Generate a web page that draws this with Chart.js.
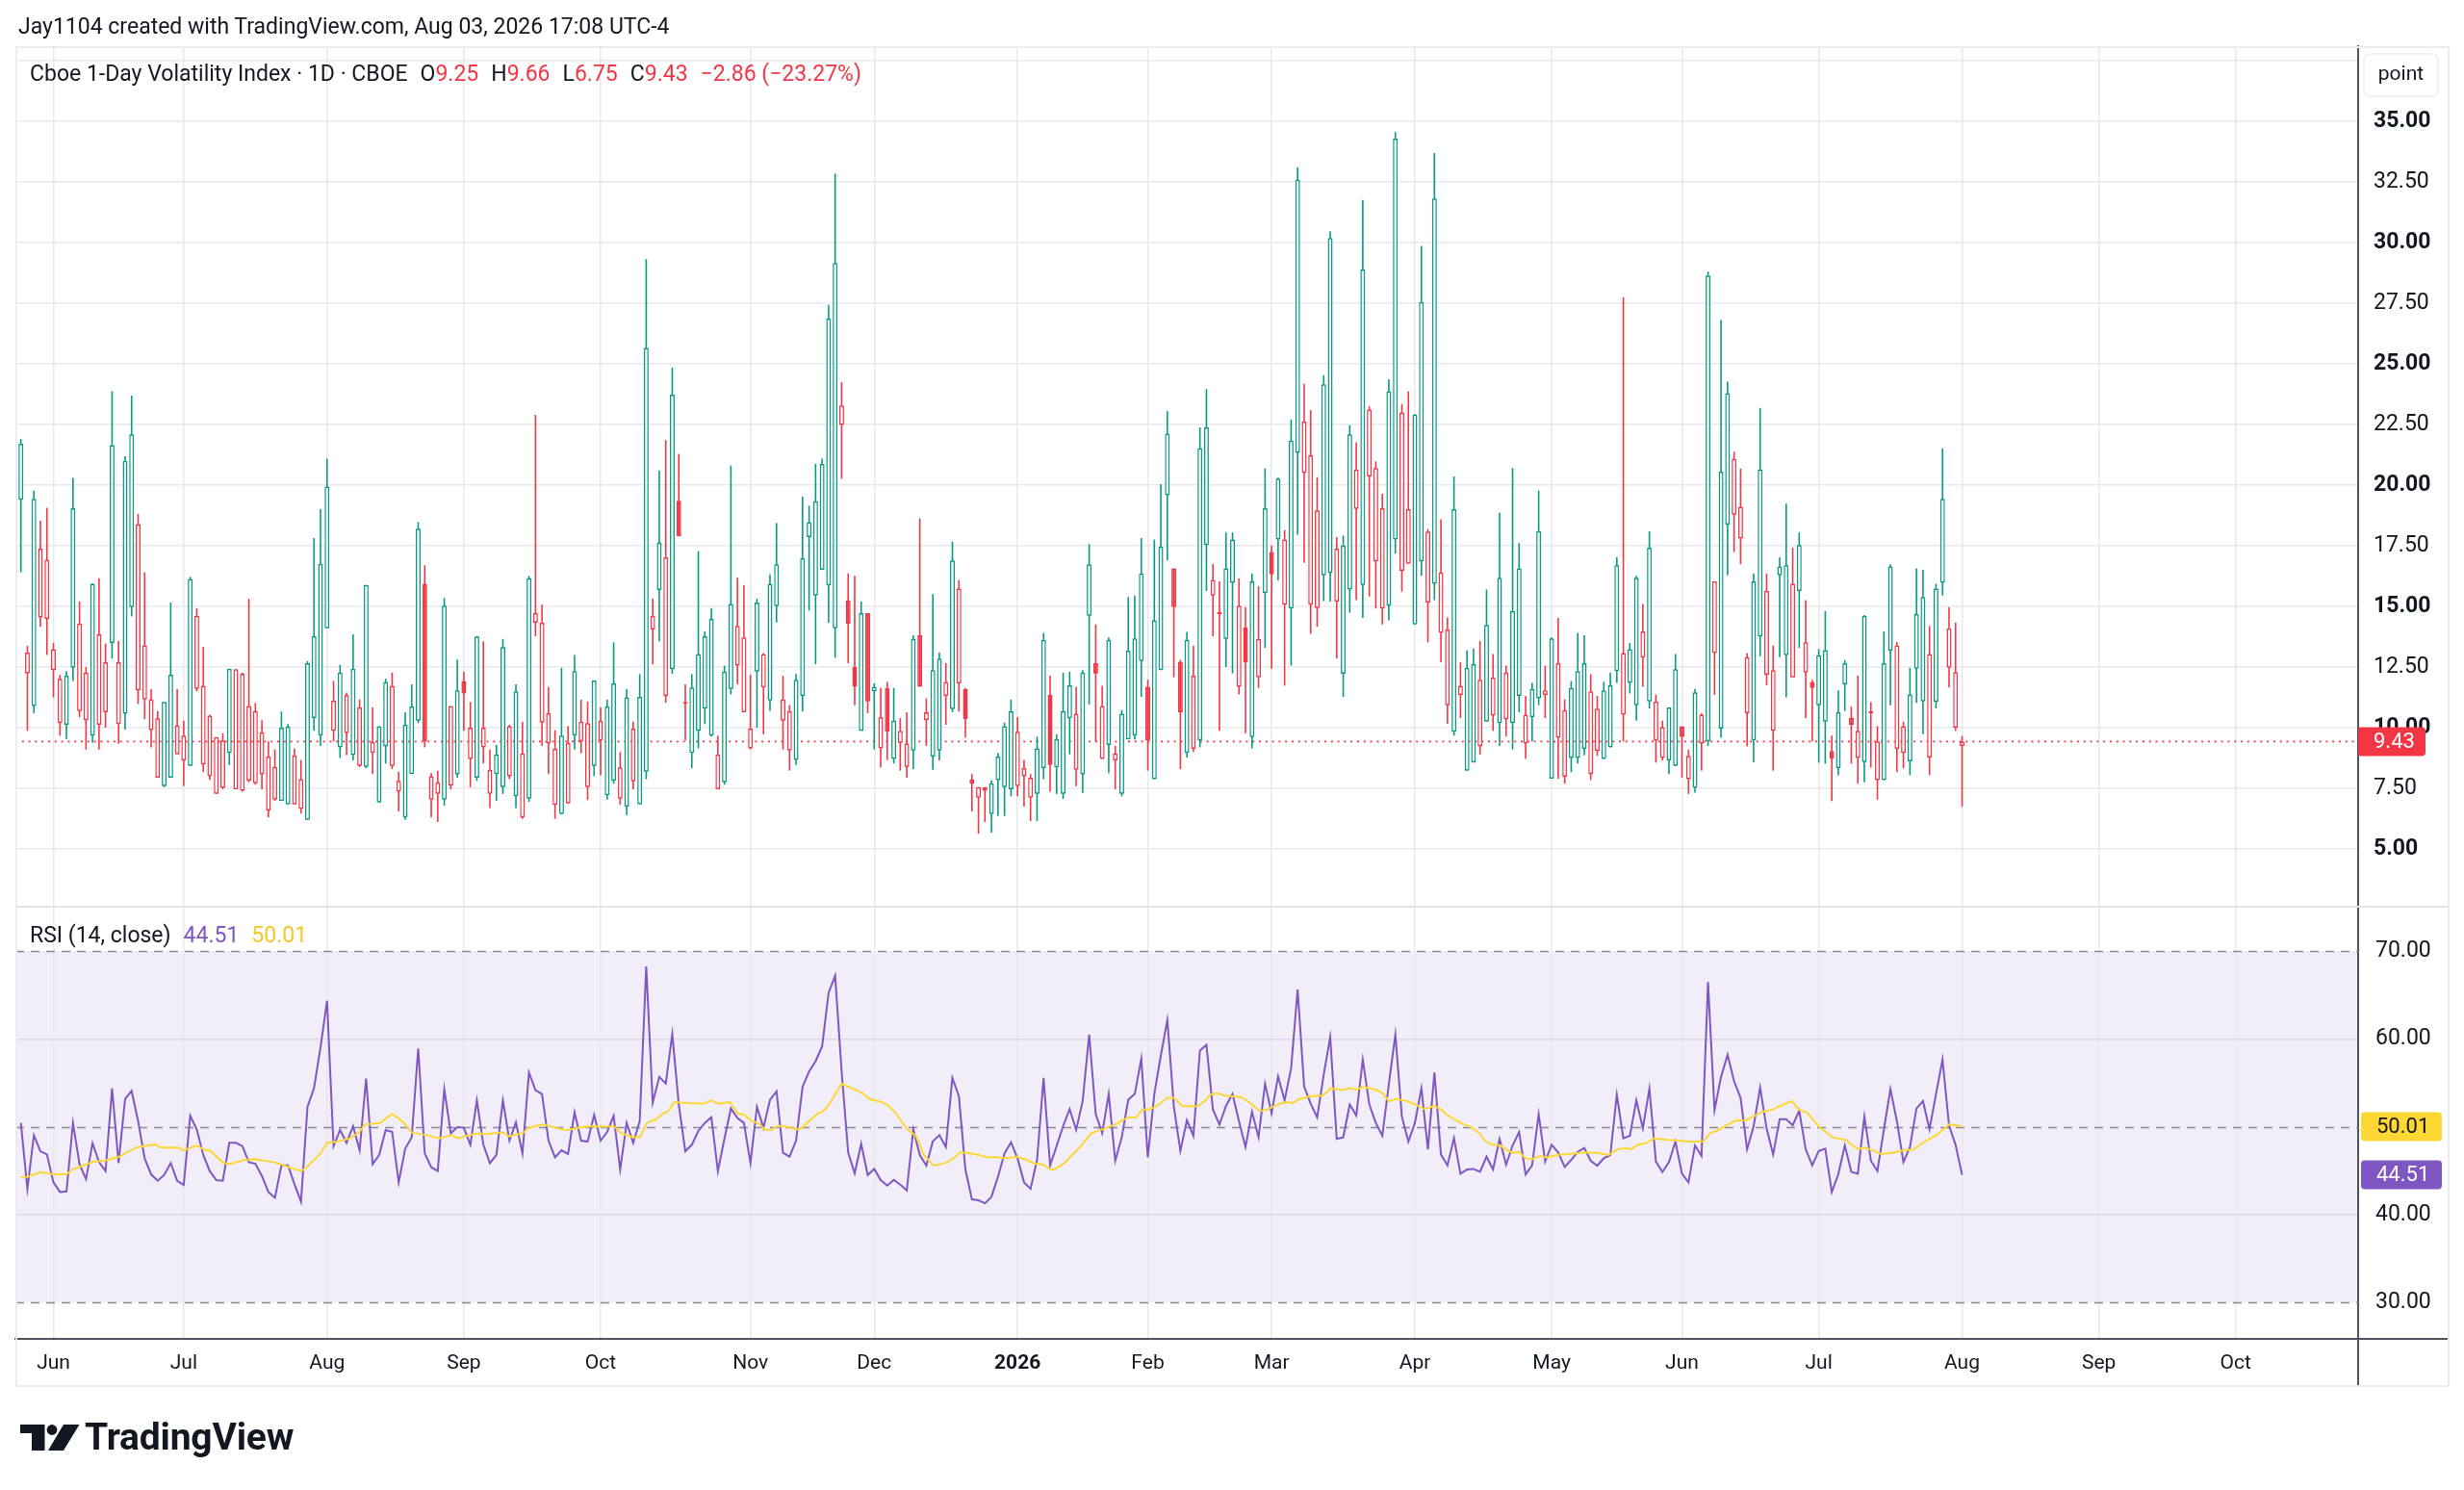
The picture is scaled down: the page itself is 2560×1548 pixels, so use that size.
<!DOCTYPE html>
<html><head><meta charset="utf-8">
<script src="https://cdn.jsdelivr.net/npm/chart.js@4.4.1/dist/chart.umd.min.js"></script>
<style>
html,body{margin:0;padding:0;background:#fff;}
#wrap{position:relative;width:2560px;height:1548px;overflow:hidden;font-family:Roboto,"Liberation Sans",sans-serif;color:#131722;}
canvas{position:absolute;left:0;}
#c1{top:0;}
#c2{top:943px;}
#frame{position:absolute;left:16px;top:48px;width:2529px;height:1393px;border:2px solid #e9ecf1;box-sizing:border-box;pointer-events:none;}
.txt{position:absolute;white-space:pre;font-size:23px;line-height:26px;}
#hdr{left:19px;top:15px;}
#leg{left:31px;top:64px;}
#rleg{left:31px;top:959px;}
.sp{margin-left:13px;}
.r{color:#F23645;}
.pu{color:#7E57C2;}
.ye{color:#F5C827;}
#logo{position:absolute;left:21px;top:1475px;height:40px;}
#logo svg{position:absolute;left:0;top:5px;}
#logo span{position:absolute;left:67px;top:-1px;font-size:39px;line-height:39px;font-weight:700;letter-spacing:-0.2px;color:#131722;white-space:pre;}
</style></head>
<body>
<div id="wrap">
<canvas id="c1" width="2560" height="943"></canvas>
<canvas id="c2" width="2560" height="605"></canvas>
<div id="frame"></div>
<div class="txt" id="hdr">Jay1104 created with TradingView.com, Aug 03, 2026 17:08 UTC-4</div>
<div class="txt" id="leg"></div>
<div class="txt" id="rleg"></div>
<div id="logo"><svg width="62" height="27" viewBox="0 0 62 27"><path d="M0 0H25.5V27H12V9H0Z" fill="#131722"/><circle cx="33" cy="5.5" r="5.4" fill="#131722"/><path d="M45 0H61.5L45 27H29Z" fill="#131722"/></svg><span>TradingView</span></div>
</div>
<script>
// ---------- data ----------
const monthIdx = [5,25,47,68,89,112,131,153,173,192,214,235,255,276,298,319,340];
const monthLabels = ['Jun','Jul','Aug','Sep','Oct','Nov','Dec','2026','Feb','Mar','Apr','May','Jun','Jul','Aug','Sep','Oct'];
const priceTicks = [5,7.5,10,12.5,15,17.5,20,22.5,25,27.5,30,32.5,35,37.5];
const rsiTicks = [30,40,50,60,70];
const rsiLevels = [30,50,70];

const openV = [
19.40,12.23,10.89,14.55,14.49,12.37,10.19,10.12,12.47,10.69,
10.31,9.67,10.12,10.64,13.49,10.15,10.58,14.97,11.54,11.16,
9.90,7.94,7.59,7.94,8.90,8.65,8.42,11.60,8.48,8.00,
7.27,7.52,8.96,7.46,7.40,7.81,7.71,8.08,6.59,7.03,
6.98,6.84,6.84,6.65,6.20,10.40,9.67,14.10,9.87,9.19,
9.77,8.87,8.42,8.38,8.96,6.92,9.23,8.42,7.36,6.30,
8.09,10.29,15.93,7.03,7.27,7.03,7.61,8.08,11.93,8.71,
7.94,9.19,7.27,8.09,7.55,8.00,7.17,6.30,7.07,14.33,
10.21,9.35,6.82,6.44,6.88,9.67,9.44,7.55,8.42,9.48,
7.21,7.81,7.07,6.75,7.79,6.84,8.19,14.05,15.68,11.31,
12.41,19.36,11.00,8.96,9.87,10.79,9.67,7.46,7.75,11.60,
12.56,10.64,9.15,12.31,11.66,11.12,15.01,10.29,9.06,8.67,
11.31,17.86,15.45,16.51,15.87,14.10,22.48,15.26,12.50,9.87,
14.72,11.50,9.15,11.64,8.71,9.38,8.38,9.06,13.81,10.31,
8.81,9.06,11.31,10.77,11.83,11.60,7.88,7.11,7.55,6.44,
7.84,7.55,7.46,7.59,8.00,7.11,7.27,8.33,11.35,8.36,
7.27,10.39,8.27,8.08,14.62,12.66,8.71,9.29,8.65,7.27,
9.52,9.67,12.75,11.69,7.88,12.37,19.59,16.57,12.72,8.96,
9.13,9.48,17.53,15.45,14.70,13.66,15.97,11.69,14.14,9.61,
12.08,15.55,17.24,17.76,15.07,14.91,21.33,20.50,15.07,14.93,
16.28,16.38,15.20,12.22,15.70,19.02,15.89,20.36,16.86,14.91,
15.03,17.76,16.47,16.76,14.26,16.86,15.16,15.93,13.91,10.92,
9.83,11.35,8.23,8.56,9.23,10.25,10.50,10.19,10.35,10.19,
11.31,9.35,10.44,11.21,11.35,7.90,9.58,7.98,8.75,8.75,
9.13,8.09,9.04,8.71,9.19,12.33,10.54,11.85,10.92,12.89,
11.08,9.48,8.75,8.65,8.42,10.06,7.88,7.52,9.35,9.44,
13.08,9.96,18.38,18.78,17.80,10.60,9.48,13.76,12.18,9.87,
16.28,12.99,12.08,15.64,12.27,11.89,10.92,10.25,9.04,8.33,
11.79,10.40,8.75,8.58,10.62,7.84,7.84,13.18,9.13,8.96,
8.61,12.43,11.08,8.77,11.06,15.97,12.47,10.00,9.25];

const highV = [
21.90,13.37,19.78,18.53,19.07,13.49,12.18,12.33,20.30,15.20,
12.50,15.95,16.16,13.47,23.87,13.58,21.19,23.69,18.82,16.41,
11.60,10.69,11.06,15.16,11.60,10.29,16.22,14.93,13.33,10.54,
9.61,9.77,12.43,12.41,12.27,15.32,11.02,10.31,9.44,9.10,
10.67,10.15,9.15,8.67,12.75,17.82,19.01,21.09,11.93,12.60,
11.45,13.85,11.16,15.89,10.83,10.06,12.02,12.27,8.19,10.64,
11.79,18.48,16.70,8.13,8.23,15.35,10.89,12.81,12.31,11.06,
13.78,13.56,9.10,9.29,13.66,10.12,11.79,10.25,16.26,22.90,
15.07,11.69,9.90,12.47,10.06,13.00,11.16,11.08,11.95,10.83,
11.16,13.52,9.00,11.60,10.25,12.21,29.32,15.32,20.61,21.86,
24.85,21.29,11.79,12.21,17.28,13.97,14.93,9.67,12.56,20.81,
16.18,15.89,12.18,15.32,13.08,16.32,18.44,12.14,10.93,12.21,
19.53,19.15,20.88,21.09,27.43,32.84,24.25,16.36,16.26,15.20,
14.72,11.83,11.64,11.89,11.64,10.39,10.64,13.81,18.63,11.21,
15.51,13.10,12.66,17.67,16.09,11.64,8.09,7.55,7.55,7.84,
8.96,10.21,11.16,10.44,8.67,8.09,9.63,13.91,12.14,9.73,
12.27,12.31,11.69,12.37,17.57,14.26,11.73,13.72,9.25,10.73,
15.39,15.45,17.82,11.98,17.76,20.04,23.06,16.57,12.80,13.95,
13.37,22.38,23.96,16.74,16.03,18.05,18.05,16.16,14.97,16.36,
15.84,20.69,17.51,20.31,18.15,22.71,33.11,24.18,23.10,20.33,
24.54,30.47,17.86,17.92,22.48,21.77,31.76,23.25,20.98,19.65,
24.37,34.56,23.35,23.87,22.92,29.86,18.19,33.69,18.59,14.55,
20.36,12.70,13.20,13.27,13.58,15.70,13.04,18.86,12.56,20.71,
17.61,11.31,11.85,19.78,12.56,13.72,14.53,11.17,11.93,13.91,
13.81,12.21,11.31,11.89,12.27,17.03,27.74,13.49,16.26,15.10,
18.09,11.37,10.29,10.83,13.04,10.06,9.10,11.60,10.60,28.80,
16.03,26.81,24.27,21.38,20.69,13.08,16.36,23.19,16.36,13.39,
17.03,19.24,17.42,18.05,15.26,11.98,13.24,14.81,9.67,11.54,
12.79,10.87,12.14,14.64,11.06,10.06,13.97,16.74,13.53,10.25,
12.47,16.57,16.51,14.20,15.93,21.52,14.97,14.33,9.66];

const lowV = [
16.41,9.87,10.60,14.16,13.00,11.25,9.67,9.54,11.93,10.44,
9.10,9.38,9.10,10.00,12.85,9.34,9.92,14.59,10.98,10.35,
9.19,7.94,7.55,7.94,8.90,7.59,8.42,11.50,8.17,7.84,
7.27,7.46,8.46,7.46,7.36,7.75,7.65,7.46,6.30,6.98,
6.98,6.84,6.84,6.46,6.20,9.87,9.25,14.10,9.44,8.75,
8.87,8.65,8.38,8.33,8.09,6.92,8.52,8.29,6.55,6.20,
8.09,10.19,9.19,6.30,6.11,6.78,7.46,7.94,9.87,7.55,
7.81,8.52,6.69,6.98,7.27,7.88,6.69,6.24,6.94,13.77,
9.25,8.09,6.24,6.44,6.88,9.10,8.94,7.02,8.00,8.04,
7.03,7.69,6.82,6.40,7.46,6.84,7.88,12.62,13.56,11.02,
12.22,17.90,9.48,8.33,9.15,10.15,9.63,7.46,7.65,11.37,
11.79,10.64,9.10,10.00,9.73,10.69,14.34,9.10,8.23,8.46,
10.67,14.83,12.62,16.51,14.33,12.89,20.27,12.66,10.92,9.87,
10.60,9.10,8.36,8.67,8.52,8.23,7.94,8.29,11.69,9.25,
8.27,8.65,10.12,10.64,10.67,9.58,6.55,5.63,6.11,5.67,
6.36,6.36,7.17,7.17,6.75,6.15,6.15,7.88,7.36,7.27,
7.07,8.90,7.59,7.31,10.96,9.44,8.71,8.13,7.46,7.17,
9.52,9.52,11.27,8.23,7.88,12.37,16.90,12.08,8.29,8.77,
9.00,9.19,15.64,13.77,9.87,12.50,12.24,11.37,9.77,9.15,
11.64,13.29,12.43,16.07,11.73,12.56,17.96,16.80,13.87,14.16,
15.22,15.20,12.85,11.27,14.74,15.26,14.53,15.41,14.91,14.26,
14.43,17.18,15.61,16.76,14.26,16.26,13.52,15.26,12.70,10.16,
9.67,10.40,8.23,8.56,8.90,10.25,9.87,9.25,9.64,9.10,
10.64,8.71,9.44,10.93,10.40,7.90,7.90,7.69,8.17,8.52,
8.86,7.84,8.84,8.71,9.19,11.85,9.44,11.41,10.29,11.69,
10.79,8.56,8.65,8.09,8.42,7.94,7.27,7.32,8.23,9.25,
11.35,9.58,16.28,17.24,16.74,9.23,8.57,12.95,11.75,8.23,
12.91,11.25,12.08,13.29,10.40,9.44,8.56,8.52,6.98,8.04,
10.69,8.52,7.69,7.75,8.36,7.03,7.84,10.92,8.17,8.33,
8.04,11.02,9.73,8.04,10.79,15.45,11.66,9.87,6.75];

const closeV = [
21.71,13.10,19.44,17.38,16.93,13.24,12.02,12.14,19.05,14.30,
12.27,15.93,13.85,12.70,21.65,12.70,21.00,22.10,18.40,13.39,
11.16,10.39,11.06,12.18,10.10,9.67,16.13,14.62,11.73,10.50,
9.61,9.48,12.43,12.41,12.22,10.89,10.69,9.81,8.81,8.38,
10.00,10.05,8.86,7.88,12.66,13.77,16.76,19.94,11.12,12.27,
11.35,12.43,10.83,15.89,9.42,10.06,11.89,11.73,7.81,10.12,
10.87,18.21,9.44,8.00,7.75,15.03,10.89,11.54,11.41,10.00,
13.76,10.00,8.27,8.90,13.33,10.06,11.50,8.94,16.16,14.72,
14.33,10.60,9.13,9.67,9.38,12.33,10.25,10.19,11.95,10.29,
10.87,11.83,8.36,11.25,9.96,11.27,25.66,14.62,17.63,17.03,
23.73,17.90,10.98,11.66,13.04,13.77,14.49,8.90,12.31,15.10,
14.20,13.72,9.96,15.16,13.04,15.93,16.74,11.16,10.69,11.98,
16.99,18.47,19.34,20.88,26.87,29.16,23.29,14.29,11.69,14.72,
11.08,11.69,10.44,9.83,10.29,9.87,9.35,13.66,11.69,10.64,
12.37,12.85,11.89,16.90,15.74,10.35,7.69,7.55,7.40,7.71,
8.81,10.06,10.68,9.83,8.33,7.94,9.15,13.62,8.46,9.54,
10.69,11.75,10.58,12.27,16.74,12.23,10.89,13.62,8.94,10.58,
13.18,13.68,16.36,9.48,14.43,17.47,22.13,14.97,10.64,13.62,
12.14,21.52,22.38,16.09,14.68,16.57,17.76,15.03,12.70,16.03,
13.66,19.05,16.32,20.27,17.76,21.84,32.59,22.62,21.23,18.96,
24.16,30.19,17.38,17.51,22.10,20.65,28.89,23.12,20.71,19.05,
23.87,34.29,23.00,19.01,22.92,27.55,18.09,31.82,16.41,14.05,
19.01,11.73,12.47,12.62,11.98,14.24,12.08,16.18,12.27,14.81,
16.57,10.54,11.60,18.11,11.54,13.68,12.66,10.73,11.64,12.33,
12.66,11.50,10.79,11.54,11.75,16.70,13.08,13.24,16.18,13.97,
17.42,11.08,10.02,10.83,12.41,9.62,8.84,11.46,10.54,28.64,
16.03,20.56,23.79,21.08,19.11,12.91,16.03,20.65,15.64,12.37,
16.65,16.70,15.93,17.53,13.52,11.64,12.99,13.20,8.71,10.64,
12.66,10.12,9.87,14.62,10.60,9.44,12.66,16.65,13.39,10.06,
11.37,14.68,15.39,13.04,15.74,19.44,14.10,12.29,9.43];

const rsiV = [
50.42,42.92,49.03,47.20,46.84,43.66,42.56,42.63,50.42,45.74,
44.02,48.12,45.96,44.94,54.34,45.85,53.17,54.08,50.61,46.40,
44.57,43.84,44.50,45.85,43.84,43.36,51.23,49.69,46.77,44.94,
43.91,43.84,48.16,48.16,47.79,45.96,45.78,44.39,42.56,41.90,
45.60,45.60,43.47,41.46,52.25,54.38,59.02,64.33,47.79,49.62,
48.16,50.06,47.31,55.47,45.74,46.77,49.62,49.40,43.66,47.50,
48.78,58.91,46.95,45.38,44.94,54.27,49.25,49.95,49.88,47.94,
52.99,47.94,45.85,46.77,52.99,48.41,50.50,46.95,56.17,54.16,
53.72,48.41,46.51,47.31,46.88,51.63,48.41,48.30,51.34,48.41,
49.40,51.23,45.12,50.42,48.16,50.61,68.24,52.73,55.66,54.92,
60.56,52.50,47.20,47.94,49.51,50.42,51.08,44.94,48.60,52.07,
50.97,50.42,45.85,52.25,49.88,53.06,54.01,47.02,46.58,48.41,
54.52,56.28,57.45,59.13,65.24,67.18,56.28,47.06,44.68,48.05,
44.50,45.19,43.91,43.29,43.95,43.40,42.74,49.69,46.77,45.56,
48.34,49.03,47.68,55.55,53.46,45.12,41.72,41.61,41.28,42.01,
44.31,46.95,48.23,46.40,43.66,42.92,46.22,55.55,45.60,47.79,
50.06,52.00,49.62,52.91,60.49,51.45,49.25,53.72,46.11,48.78,
53.06,53.72,57.74,46.51,53.72,58.11,62.13,52.25,47.24,50.72,
48.96,58.66,59.32,51.96,50.24,52.36,53.72,50.61,47.68,51.71,
48.78,54.89,51.52,55.73,52.99,56.64,65.61,54.56,52.62,51.05,
55.91,60.19,48.60,48.78,52.51,51.27,57.63,52.55,50.42,48.96,
54.82,60.49,51.16,48.30,50.42,54.38,47.42,56.17,46.84,45.60,
48.70,44.64,45.12,45.19,44.86,46.58,45.12,48.60,45.67,47.86,
49.40,44.57,45.60,51.41,46.03,47.94,47.06,45.41,46.22,47.13,
47.57,46.11,45.56,46.40,46.77,53.64,48.67,48.96,52.99,49.80,
54.34,46.03,44.83,45.96,48.30,44.64,43.66,47.86,46.66,66.45,
51.89,55.66,58.18,55.18,53.28,47.42,50.06,54.45,49.77,46.84,
50.86,50.86,50.17,51.81,47.42,45.60,47.24,47.50,42.56,44.57,
47.86,44.86,44.64,51.16,46.14,44.94,49.69,54.27,50.61,45.96,
47.68,52.07,52.91,49.69,53.72,57.63,50.13,47.94,44.51];

// RSI-based moving average, read as [bar index, value] points
const maPoints = [
[0,44.28],[1.1,44.31],[3.1,44.83],[5,44.57],[7,44.57],[7.9,45.12],[9.9,45.67],[11.2,46.03],[12.8,46.11],[15.1,46.58],
[16.4,47.13],[18,47.68],[20.6,47.97],[21.6,47.61],[24.2,47.61],[25,47.31],[27,47.86],[28.1,47.39],[29.1,47.24],[31,45.92],
[32,45.74],[34.3,46.22],[35.9,46.29],[38.8,45.96],[40.1,45.67],[41.4,45.30],[43.1,44.94],[44,45.49],[46,46.95],[47,48.16],
[48.6,48.30],[50.5,48.67],[51.9,49.33],[52.8,50.24],[55.1,50.42],[57,51.45],[58.7,50.50],[60,49.33],[62.3,49.03],[64.2,48.67],
[66.2,49.03],[67.1,48.67],[68.8,49.03],[70.1,49.22],[71.4,49.14],[74,49.33],[75,48.89],[77.2,49.33],[77.9,49.88],[80.1,50.24],
[81.8,49.95],[83.7,49.58],[85.7,49.88],[87.6,50.06],[90.2,49.99],[90.9,50.13],[92.2,49.25],[94.1,48.78],[95.1,48.85],[96.1,50.42],
[97.4,50.79],[98.4,51.41],[99.3,51.70],[100.3,52.80],[102.2,52.69],[104.8,52.62],[106,52.99],[107.1,52.62],[108.9,52.80],[110,51.52],
[111,51.34],[112.3,50.61],[113.3,50.35],[114.3,49.62],[115.2,49.62],[116.2,50.06],[117.2,50.06],[119.1,49.69],[120.1,49.95],[121.1,50.72],
[122.4,51.52],[123.4,51.89],[124.3,52.80],[126,54.89],[127.6,54.38],[129.2,53.83],[130.2,53.17],[132.1,52.80],[133.1,52.44],[134.1,51.71],
[136.1,49.69],[137.4,48.96],[138.6,46.77],[140.1,45.60],[141.3,45.74],[142.2,45.96],[143.2,46.40],[144.2,47.06],[145.8,46.95],[147.1,46.77],
[148.4,46.51],[149.7,46.51],[151,46.40],[153,46.58],[154.3,46.22],[155.6,45.78],[157,45.67],[158,45.12],[158.8,45.19],[160.2,45.85],
[161.4,46.77],[163,48.05],[164.3,49.25],[166,49.69],[167.3,50.06],[168.3,50.35],[169.2,50.79],[170.2,51.08],[171.2,51.05],[172.2,51.96],
[173.2,51.96],[174.4,52.33],[176,53.28],[177,53.28],[178.3,52.33],[180.6,52.33],[181.6,52.80],[182.6,53.64],[183.5,53.83],[184.8,53.53],
[186,53.46],[187.4,53.35],[188.7,52.69],[190.2,51.78],[191.4,51.96],[193,52.55],[194.3,52.80],[195.3,52.69],[196.2,53.10],[197.8,53.46],
[199.8,53.53],[201.1,54.34],[203,54.19],[204,54.38],[205,54.19],[206,54.52],[207,54.38],[208.2,54.16],[209.2,53.72],[210,52.88],
[211.1,53.17],[212.8,52.91],[214.1,52.51],[215.4,52.00],[217,52.36],[218,51.96],[218.9,51.34],[220.2,50.79],[221.2,50.35],[222.5,49.99],
[223.8,49.33],[224.9,48.30],[225.8,47.94],[227.1,47.86],[228,47.42],[229,47.02],[230,47.13],[231,46.40],[231.9,46.29],[233.2,46.66],
[234.2,46.51],[235.8,46.77],[237.8,46.91],[240.4,47.06],[242,47.02],[243.7,46.77],[245,47.39],[246.3,47.57],[247.2,47.42],[248.2,47.94],
[249.5,48.12],[250.8,48.67],[252.8,48.49],[254.7,48.41],[256,48.30],[257.3,48.30],[258.3,48.34],[259.3,49.25],[260.3,49.51],[261.9,50.17],
[263.2,50.68],[264.8,50.72],[266.4,51.34],[267.4,51.71],[269,51.96],[270.3,52.44],[271.9,52.91],[272.9,51.96],[274.2,51.60],[276.2,49.88],
[278.1,48.78],[280.1,48.49],[282,47.42],[283,47.61],[284.3,47.31],[285.6,46.88],[287.2,47.02],[288.6,47.24],[290.5,47.39],[292.5,48.41],
[294.1,49.03],[296,50.24],[297,50.17],[298,50.01]];

// ---------- styling ----------
const GREEN = '#089981', RED = '#F23645', PURPLE = '#7E57C2', YELLOW = '#FDD835';
const GRID = '#e9e9eb', AXIS = '#50535e', TXT = '#131722', SEP = '#e0e3eb';
const FONT = 'Roboto, "Liberation Sans", sans-serif';
const X_MIN = -0.84, X_MAX = 358.8;
Chart.defaults.font.family = FONT;
Chart.defaults.color = TXT;

const N = closeV.length;
const last = N - 1;
const bars = closeV.map((c, i) => i);
const candleColor = bars.map(i => (i === 0 ? closeV[i] >= openV[i] : closeV[i] >= closeV[i - 1]) ? GREEN : RED);
const bodyFill = bars.map(i => closeV[i] > openV[i] ? '#ffffff' : candleColor[i]);

// legends (real text, values from the data)
const fmt = v => v.toFixed(2).replace('-', '\u2212');
const chg = closeV[last] - closeV[last - 1];
const pct = chg / closeV[last - 1] * 100;
document.getElementById('leg').innerHTML =
  'Cboe 1-Day Volatility Index \u00b7 1D \u00b7 CBOE' +
  '<span class="sp">O</span><span class="r">' + fmt(openV[last]) + '</span>' +
  '<span class="sp">H</span><span class="r">' + fmt(highV[last]) + '</span>' +
  '<span class="sp">L</span><span class="r">' + fmt(lowV[last]) + '</span>' +
  '<span class="sp">C</span><span class="r">' + fmt(closeV[last]) + '</span>' +
  '<span class="sp r">' + fmt(chg) + ' (' + fmt(pct) + '%)</span>';
document.getElementById('rleg').innerHTML =
  'RSI (14, close)<span class="sp pu">' + rsiV[last].toFixed(2) + '</span><span class="sp ye">' + maPoints[maPoints.length - 1][1].toFixed(2) + '</span>';

function xScaleBase(showLabels) {
  return {
    type: 'linear', min: X_MIN, max: X_MAX, offset: false,
    grid: { color: GRID, lineWidth: 1.5, drawTicks: false, offset: false },
    afterBuildTicks: s => { s.ticks = monthIdx.map(v => ({ value: v })); },
    ticks: showLabels ? {
      autoSkip: false, maxRotation: 0, padding: 13, color: TXT,
      font: ctx => ({ family: FONT, size: 21, weight: (ctx.tick && monthLabels[monthIdx.indexOf(ctx.tick.value)] === '2026') ? 'bold' : 'normal' }),
      callback: v => { const k = monthIdx.indexOf(v); return k >= 0 ? monthLabels[k] : ''; }
    } : { display: false },
    border: showLabels ? { display: true, color: AXIS, width: 2 } : { display: false },
    afterFit: s => { s.height = showLabels ? 49 : 0; s.paddingLeft = 0; s.paddingRight = 0; }
  };
}
// keep the panes exactly where the layout puts them (no label overflow padding)
const noPad = s => { s.width = 95; s.paddingTop = 0; s.paddingBottom = 0; };

function box(ctx, x, y, w, h, r, fill) {
  ctx.beginPath(); ctx.roundRect(x, y, w, h, r); ctx.fillStyle = fill; ctx.fill();
}

const pricePlugin = {
  id: 'pricePane',
  beforeDatasetsDraw(chart) {
    const { ctx, chartArea: a, scales: { y } } = chart;
    const py = y.getPixelForValue(closeV[last]);
    ctx.save(); ctx.strokeStyle = RED; ctx.lineWidth = 1.6; ctx.setLineDash([2, 4.8]);
    ctx.beginPath(); ctx.moveTo(a.left, py); ctx.lineTo(a.right, py); ctx.stroke(); ctx.restore();
  },
  afterDraw(chart) {
    const { ctx, chartArea: a, scales: { y } } = chart;
    const py = y.getPixelForValue(closeV[last]);
    ctx.save();
    box(ctx, a.right, py - 15, 70, 30, [0, 4, 4, 0], RED);
    ctx.fillStyle = '#fff'; ctx.font = '22px ' + FONT; ctx.textBaseline = 'middle'; ctx.textAlign = 'left';
    ctx.fillText(closeV[last].toFixed(2), a.right + 16, py + 1);
    // "point" unit box
    ctx.beginPath(); ctx.roundRect(a.right + 6, a.top + 8, 77, 44, 6);
    ctx.fillStyle = '#fff'; ctx.fill(); ctx.strokeStyle = '#eceef2'; ctx.lineWidth = 1.5; ctx.stroke();
    ctx.fillStyle = TXT; ctx.textAlign = 'center'; ctx.font = '21px ' + FONT;
    ctx.fillText('point', a.right + 44.5, a.top + 30);
    // pane separator
    ctx.fillStyle = SEP; ctx.fillRect(a.left, chart.height - 2, 2529, 2);
    ctx.restore();
  }
};

const rsiPlugin = {
  id: 'rsiPane',
  beforeDraw(chart) {
    const { ctx, chartArea: a, scales: { y } } = chart;
    const t = y.getPixelForValue(rsiLevels[2]), b = y.getPixelForValue(rsiLevels[0]);
    ctx.save(); ctx.fillStyle = 'rgba(126,87,194,0.1)'; ctx.fillRect(a.left, t, a.right - a.left, b - t); ctx.restore();
  },
  beforeDatasetsDraw(chart) {
    const { ctx, chartArea: a, scales: { y } } = chart;
    ctx.save(); ctx.strokeStyle = '#868993'; ctx.lineWidth = 1.5; ctx.setLineDash([9, 7]);
    rsiLevels.forEach(v => {
      const py = Math.round(y.getPixelForValue(v)) + 0.5;
      ctx.beginPath(); ctx.moveTo(a.left, py); ctx.lineTo(a.right, py); ctx.stroke();
    });
    ctx.restore();
  },
  afterDraw(chart) {
    const { ctx, chartArea: a, scales: { y } } = chart;
    ctx.save();
    ctx.font = '22px ' + FONT; ctx.textBaseline = 'middle'; ctx.textAlign = 'left';
    const maLast = maPoints[maPoints.length - 1][1];
    const pm = y.getPixelForValue(maLast);
    box(ctx, a.right + 3, pm - 15, 84, 30, 4, YELLOW);
    ctx.fillStyle = TXT; ctx.fillText(maLast.toFixed(2), a.right + 19, pm + 1);
    const pr = y.getPixelForValue(rsiV[last]);
    box(ctx, a.right + 3, pr - 15, 84, 30, 4, PURPLE);
    ctx.fillStyle = '#fff'; ctx.fillText(rsiV[last].toFixed(2), a.right + 19, pr + 1);
    // axis line extensions into the time-axis row
    ctx.fillStyle = AXIS;
    ctx.fillRect(a.right - 1, a.bottom, 2, 49);
    ctx.fillRect(a.right, a.bottom - 1, 95, 2);
    ctx.restore();
  }
};

new Chart(document.getElementById('c1'), {
  type: 'bar',
  data: {
    datasets: [
      { data: bars.map(i => ({ x: i, y: [openV[i], closeV[i]] })), backgroundColor: bodyFill, borderColor: candleColor,
        borderWidth: 1.5, borderSkipped: false, barThickness: 5, minBarLength: 2, grouped: false, order: 0, inflateAmount: 0 },
      { data: bars.map(i => ({ x: i, y: [lowV[i], highV[i]] })), backgroundColor: candleColor, borderWidth: 0,
        barThickness: 1.6, grouped: false, order: 1, inflateAmount: 0 }
    ]
  },
  options: {
    responsive: false, animation: false, devicePixelRatio: 1,
    layout: { padding: { left: 16, top: 48, right: 15, bottom: 0 } },
    plugins: { legend: { display: false }, tooltip: { enabled: false } },
    scales: {
      x: xScaleBase(false),
      y: {
        type: 'linear', position: 'right', min: 2.58, max: 38.1,
        grid: { color: GRID, lineWidth: 1.5, drawTicks: false },
        border: { display: true, color: AXIS, width: 2 },
        afterBuildTicks: s => { s.ticks = priceTicks.map(v => ({ value: v })); },
        ticks: {
          padding: 16, color: TXT,
          font: ctx => ({ family: FONT, size: 23, weight: (ctx.tick && ctx.tick.value % 5 === 0) ? 'bold' : 'normal' }),
          callback: v => v > 35 ? '' : v.toFixed(2)
        },
        afterFit: noPad
      }
    }
  },
  plugins: [pricePlugin]
});

new Chart(document.getElementById('c2'), {
  type: 'line',
  data: {
    datasets: [
      { data: maPoints.map(p => ({ x: p[0], y: p[1] })), borderColor: YELLOW, borderWidth: 2, pointRadius: 0, tension: 0, order: 0 },
      { data: bars.map(i => ({ x: i, y: rsiV[i] })), borderColor: PURPLE, borderWidth: 2, pointRadius: 0, tension: 0, order: 1 }
    ]
  },
  options: {
    responsive: false, animation: false, devicePixelRatio: 1,
    layout: { padding: { left: 16, top: 0, right: 15, bottom: 108 } },
    plugins: { legend: { display: false }, tooltip: { enabled: false } },
    scales: {
      x: xScaleBase(true),
      y: {
        type: 'linear', position: 'right', min: 25.84, max: 74.93,
        grid: { color: ctx => (ctx.tick && (ctx.tick.value === 40 || ctx.tick.value === 60)) ? '#dcd9e6' : 'rgba(0,0,0,0)', lineWidth: 1.5, drawTicks: false },
        border: { display: true, color: AXIS, width: 2 },
        afterBuildTicks: s => { s.ticks = rsiTicks.map(v => ({ value: v })); },
        ticks: { padding: 18, color: TXT, font: { family: FONT, size: 23 }, callback: v => v.toFixed(2) },
        afterFit: noPad
      }
    }
  },
  plugins: [rsiPlugin]
});
</script>
</body></html>
